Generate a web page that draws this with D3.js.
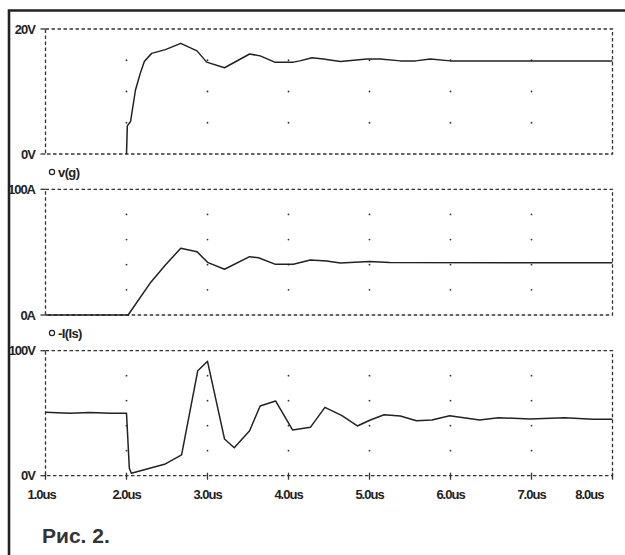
<!DOCTYPE html>
<html>
<head>
<meta charset="utf-8">
<script src="https://cdn.jsdelivr.net/npm/d3@7"></script>
<style>
    body { margin: 0; background: #fff; }
    svg { display: block; }
    .lbl { font-family: "Liberation Sans", Arial, sans-serif; font-weight: bold; font-size: 13px; letter-spacing: -1px; fill: #222; }
</style>
</head>
<body>
<div id="chart"></div>
<script>
// time axis (us)
const timeTicks = [1, 2, 3, 4, 5, 6, 7, 8];
const timeLabels = ["1.0us", "2.0us", "3.0us", "4.0us", "5.0us", "6.0us", "7.0us", "8.0us"];

// v(g), volts
const vgTime = [2.00, 2.01, 2.05, 2.11, 2.17, 2.22, 2.31, 2.48, 2.67, 2.87, 2.99, 3.21, 3.52, 3.65, 3.83, 4.06, 4.14, 4.29, 4.43, 4.64, 4.97, 5.13, 5.38, 5.57, 5.75, 6.00, 8.00];
const vgValue = [0, 4.5, 5.2, 10.2, 12.9, 14.8, 16.1, 16.7, 17.7, 16.5, 14.7, 13.8, 16.0, 15.7, 14.7, 14.7, 14.9, 15.4, 15.2, 14.8, 15.2, 15.2, 14.9, 14.9, 15.2, 14.9, 14.9];

// -I(Is), amps
const isTime = [1.00, 2.02, 2.29, 2.48, 2.67, 2.87, 3.00, 3.21, 3.52, 3.63, 3.84, 4.06, 4.27, 4.47, 4.64, 5.00, 5.25, 8.00];
const isValue = [0, 0, 25.2, 39.8, 53.1, 50.4, 41.9, 36.4, 46.4, 45.6, 40.3, 40.3, 43.8, 43.0, 41.4, 42.5, 41.7, 41.6];

// third trace, volts
const vdTime = [1.00, 1.30, 1.55, 1.80, 2.00, 2.035, 2.06, 2.48, 2.68, 2.88, 3.00, 3.21, 3.33, 3.52, 3.65, 3.84, 4.05, 4.27, 4.45, 4.66, 4.85, 5.01, 5.18, 5.38, 5.58, 5.77, 5.99, 6.36, 6.59, 6.98, 7.41, 7.76, 8.00];
const vdValue = [50.7, 50.0, 50.6, 50.0, 49.9, 5.9, 1.9, 9.4, 16.6, 84, 91.5, 29.4, 22.4, 36, 55.8, 59.8, 36.6, 38.7, 54.7, 48, 39.8, 44.6, 48.8, 47.8, 44, 44.6, 48, 44.6, 46.4, 45.4, 46.4, 45.1, 45.1];

const panels = [
    { top: 29, bottom: 154, max: 20, grid: [5, 10, 15], labels: ["20V", "0V"], time: vgTime, value: vgValue, legend: "v(g)" },
    { top: 189.3, bottom: 315, max: 100, grid: [20, 40, 60, 80], labels: ["100A", "0A"], time: isTime, value: isValue, legend: "-I(Is)" },
    { top: 350.7, bottom: 475.7, max: 100, grid: [20, 40, 60, 80], labels: ["100V", "0V"], time: vdTime, value: vdValue, legend: null }
];

const width = 625, height = 555;
const svg = d3.select("#chart").append("svg")
    .attr("width", width)
    .attr("height", height);

svg.append("rect").attr("width", width).attr("height", height).attr("fill", "#fff");

const x = d3.scaleLinear().domain([1, 8]).range([45.5, 612.5]);

const content = svg.append("g");

panels.forEach((p, pi) => {
    const y = d3.scaleLinear().domain([0, p.max]).range([p.bottom, p.top]);
    const g = content.append("g");

    // dashed box
    g.append("rect")
        .attr("x", x(1)).attr("y", y(p.max))
        .attr("width", x(8) - x(1)).attr("height", y(0) - y(p.max))
        .attr("fill", "none")
        .attr("stroke", "#333")
        .attr("stroke-width", 1.3)
        .attr("stroke-dasharray", "3.5,2.5");

    // little ticks left of the y labels
    [0, p.max].forEach(v => {
        g.append("line")
            .attr("x1", x(1) - 5).attr("x2", x(1))
            .attr("y1", y(v)).attr("y2", y(v))
            .attr("stroke", "#333").attr("stroke-width", 1.3);
    });

    // grid dots
    const inner = timeTicks.slice(1, -1);
    inner.forEach(t => {
        p.grid.forEach(v => {
            g.append("circle")
                .attr("cx", x(t)).attr("cy", y(v))
                .attr("r", 0.9).attr("fill", "#333");
        });
    });

    // y labels
    g.append("text").attr("class", "lbl")
        .attr("x", 35).attr("y", y(p.max) + 4.5)
        .attr("text-anchor", "end").text(p.labels[0]);
    g.append("text").attr("class", "lbl")
        .attr("x", 35).attr("y", y(0) + 4.5)
        .attr("text-anchor", "end").text(p.labels[1]);

    // trace
    const pts = p.time.map((t, i) => [t, p.value[i]]);
    const line = d3.line().x(d => x(d[0])).y(d => y(d[1]));
    g.append("path")
        .attr("d", line(pts))
        .attr("fill", "none")
        .attr("stroke", "#222")
        .attr("stroke-width", 1.5)
        .attr("stroke-linejoin", "round");

    // legend below the panel
    if (p.legend) {
        g.append("circle")
            .attr("cx", 52).attr("cy", p.bottom + 18)
            .attr("r", 2.6)
            .attr("fill", "none").attr("stroke", "#222").attr("stroke-width", 1.2);
        g.append("text").attr("class", "lbl")
            .attr("x", 58).attr("y", p.bottom + 22.5)
            .style("letter-spacing", "-0.6px")
            .text(p.legend);
    }

    // time axis under the last panel
    if (pi === panels.length - 1) {
        timeTicks.forEach((t, i) => {
            g.append("line")
                .attr("x1", x(t)).attr("x2", x(t))
                .attr("y1", y(0) - 3).attr("y2", y(0) + 4)
                .attr("stroke", "#333").attr("stroke-width", 1.3);

            let anchor = "middle", tx = x(t);
            if (i === 0) { anchor = "start"; tx = x(t) - 18; }
            if (i === timeTicks.length - 1) { anchor = "end"; tx = x(t) - 9; }
            g.append("text").attr("class", "lbl")
                .attr("x", tx).attr("y", y(0) + 23)
                .attr("text-anchor", anchor)
                .text(timeLabels[i]);
        });
    }
});

// white margin left of the frame hides the clipped label parts
svg.append("rect").attr("x", 0).attr("y", 0).attr("width", 8).attr("height", height).attr("fill", "#fff");
svg.append("rect").attr("x", 0).attr("y", 0).attr("width", width).attr("height", 9).attr("fill", "#fff");

// outer frame (runs off the right and bottom edge)
svg.append("path")
    .attr("d", `M9,${height + 5} V10.5 H${width + 5}`)
    .attr("fill", "none")
    .attr("stroke", "#222")
    .attr("stroke-width", 2.6);

svg.append("text")
    .attr("x", 42).attr("y", 543)
    .style("font-family", "'Liberation Sans', Arial, sans-serif")
    .style("font-weight", "bold")
    .style("font-size", "21px")
    .style("fill", "#333")
    .text("Рис. 2.");
</script>
</body>
</html>
